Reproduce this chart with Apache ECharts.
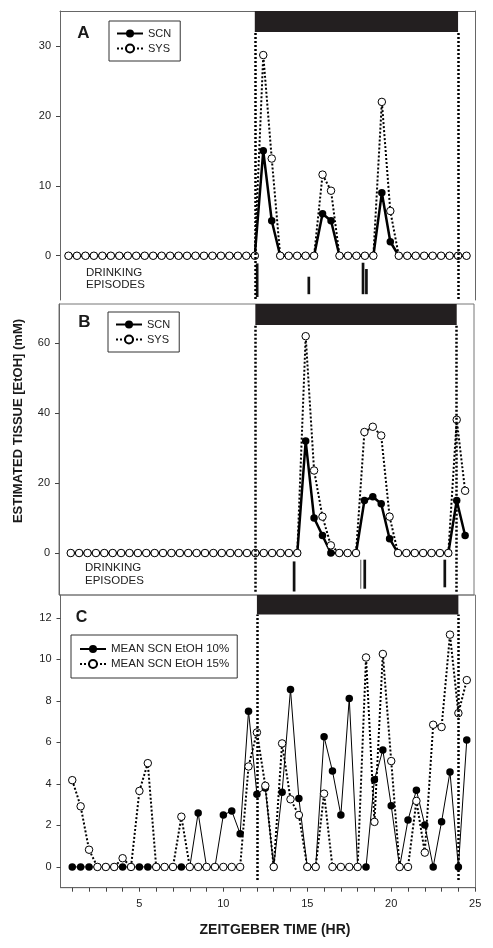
<!DOCTYPE html>
<html><head><meta charset="utf-8">
<script src="https://cdn.jsdelivr.net/npm/echarts@6/dist/echarts.min.js"></script>
<style>html,body{margin:0;padding:0;background:#fff}#c{width:493px;height:948px}</style>
</head><body><div id="c"></div>
<script>
// ---------------- DATA ----------------
const times = [1,1.5,2,2.5,3,3.5,4,4.5,5,5.5,6,6.5,7,7.5,8,8.5,9,9.5,10,10.5,11,11.5,12,12.5,
               13,13.5,14,14.5,15,15.5,16,16.5,17,17.5,18,18.5,19,19.5,20,20.5,21,21.5,22,22.5,23,23.5,24,24.5];
// Panel A
const scnA = [0,0,0,0,0,0,0,0,0,0, 0,0,0,0,0,0,0,0,0,0, 0,0,0,15,5,0,0,0,0,0, 6,5,0,0,0,0,0,9,2,0, 0,0,0,0,0,0,0,0];
const sysA = [0,0,0,0,0,0,0,0,0,0, 0,0,0,0,0,0,0,0,0,0, 0,0,0,28.7,13.9,0,0,0,0,0, 11.6,9.3,0,0,0,0,0,22,6.4,0, 0,0,0,0,0,0,0,0];
// Panel B
const scnB = [0,0,0,0,0,0,0,0,0,0, 0,0,0,0,0,0,0,0,0,0, 0,0,0,0,0,0,0,0,32,10, 5,0,0,0,0,15,16.1,14.1,4.1,0, 0,0,0,0,0,0,15,5];
const sysB = [0,0,0,0,0,0,0,0,0,0, 0,0,0,0,0,0,0,0,0,0, 0,0,0,0,0,0,0,0,62,23.6, 10.4,2.2,0,0,0,34.6,36.1,33.6,10.4,0, 0,0,0,0,0,0,38.1,17.8];
// Panel C
const mean10 = [0,0,0,0,0,0,0,0,0,0, 0,0,0,0,0,2.6,0,0,2.5,2.7, 1.6,7.5,3.5,3.8,0,3.6,8.55,3.3,0,0,
                6.27,4.62,2.5,8.12,0,0,4.2,5.63,2.95,0, 2.26,3.7,2.02,0,2.18,4.57,0,6.11];
const mean15 = [4.18,2.92,0.83,0,0,0,0.42,0,3.66,5.0, 0,0,0,2.42,0,0,0,0,0,0, 0,4.84,6.48,3.91,0,5.95,3.26,2.5,0,0,
                3.53,0,0,0,0,10.09,2.17,10.26,5.1,0, 0,3.18,0.69,6.85,6.74,11.19,7.41,9.0];
// Drinking episodes: time (hr), top and bottom of the mark (mM units)
const episodeTimeA = [12.14, 15.19, 18.39, 18.59];
const episodeTopA = [-1.1, -3.0, -1.0, -1.9];
const episodeBottomA = [-5.9, -5.5, -5.5, -5.5];
const episodeTimeB = [14.31, 18.52, 23.29];
const episodeTopB = [-2.4, -1.9, -1.9];
const episodeBottomB = [-11.0, -10.2, -9.8];
const episodeTimeBminor = [18.28];
const episodeTopBminor = [-1.9];
const episodeBottomBminor = [-10.2];
// Dark phase
const darkStart = 12, darkEnd = 24;
// Tick labels
const yLabelsA = [0,10,20,30];
const yLabelsB = [0,20,40,60];
const yLabelsC = [0,2,4,6,8,10,12];
const xTicks = [1,2,3,4,5,6,7,8,9,10,11,12,13,14,15,16,17,18,19,20,21,22,23,24,25];
const xLabels = [5,10,15,20,25];
const namesAB = ['SCN','SYS'];
const namesC = ['MEAN SCN EtOH 10%','MEAN SCN EtOH 15%'];

// ---------------- CHART ----------------
const FONT = 'Liberation Sans, Arial, sans-serif';
const pair = (vals) => times.map((t,i)=>[t, vals[i]]);
const epi = (t, top, bot) => t.map((v,i)=>[v, top[i], bot[i]]);

// panel ranges
const P = [
  {xmin:0.5, xmax:25, ymin:-6.33, ymax:35, barFrom:32, lineBottom:-6.2},
  {xmin:0.3, xmax:25.03, ymin:-12, ymax:71.2, barFrom:65.2, lineBottom:-11.1},
  {xmin:0.3, xmax:25.02, ymin:-1.0, ymax:13.1, barFrom:12.16, lineBottom:-0.63}
];

function nightMarks(p){
  return {
    markArea:{silent:true, itemStyle:{color:'#231f20'},
      data:[[{coord:[darkStart, p.barFrom]},{coord:[darkEnd, p.ymax]}]]},
    markLine:{silent:true, symbol:['none','none'], label:{show:false},
      lineStyle:{color:'#000', width:2.5, type:[2,2]},
      data:[[{coord:[darkStart,p.lineBottom]},{coord:[darkStart,p.barFrom]}],
            [{coord:[darkEnd,p.lineBottom]},{coord:[darkEnd,p.barFrom]}]]}
  };
}

function episodeSeries(idx, data, color, w){
  return {type:'custom', xAxisIndex:idx, yAxisIndex:idx, data:data, silent:true, z:1,
    renderItem:function(params, api){
      const a = api.coord([api.value(0), api.value(1)]);
      const b = api.coord([api.value(0), api.value(2)]);
      return {type:'rect', shape:{x:a[0]-w/2, y:a[1], width:w, height:b[1]-a[1]}, style:{fill:color}};
    }};
}

const filledStyle = {symbol:'circle', symbolSize:7.5, itemStyle:{color:'#000'}};
const openStyle = {symbol:'circle', symbolSize:7.5, itemStyle:{color:'#fff', borderColor:'#000', borderWidth:1}};

const axisLineStyle = {color:'#666', width:1};
function yAxisFor(idx, p, labels){
  return {type:'value', gridIndex:idx, min:p.ymin, max:p.ymax, splitLine:{show:false},
    axisLine:{show:true, onZero:false, lineStyle:axisLineStyle},
    axisTick:{show:true, inside:false, length:4, customValues:labels, lineStyle:{color:'#444'}},
    axisLabel:{show:true, customValues:labels, fontSize:11, color:'#222', margin:9, fontFamily:FONT}};
}

const option = {
  animation:false,
  backgroundColor:'#fff',
  grid:[
    {left:60, top:11, width:415, height:289, show:false},
    {left:59, top:304, width:415, height:291, show:true, borderColor:'#777', borderWidth:1, backgroundColor:'transparent'},
    {left:60.5, top:595, width:415, height:292.7, show:true, borderColor:'#777', borderWidth:1, backgroundColor:'transparent'}
  ],
  xAxis:[
    {type:'value', gridIndex:0, min:P[0].xmin, max:P[0].xmax, position:'top', splitLine:{show:false},
      axisLine:{show:true, onZero:false, lineStyle:axisLineStyle}, axisTick:{show:false}, axisLabel:{show:false}},
    {type:'value', gridIndex:1, min:P[1].xmin, max:P[1].xmax, splitLine:{show:false},
      axisLine:{show:false, onZero:false}, axisTick:{show:false}, axisLabel:{show:false}},
    {type:'value', gridIndex:2, min:P[2].xmin, max:P[2].xmax, splitLine:{show:false},
      axisLine:{show:true, onZero:false, lineStyle:axisLineStyle},
      axisTick:{show:true, length:4, customValues:xTicks, lineStyle:{color:'#444'}},
      axisLabel:{show:true, customValues:xLabels, fontSize:11, color:'#222', margin:11, fontFamily:FONT}}
  ],
  yAxis:[
    yAxisFor(0, P[0], yLabelsA),
    yAxisFor(1, P[1], yLabelsB),
    yAxisFor(2, P[2], yLabelsC),
    {type:'value', gridIndex:0, position:'right', min:P[0].ymin, max:P[0].ymax, splitLine:{show:false},
      axisLine:{show:true, onZero:false, lineStyle:axisLineStyle}, axisTick:{show:false}, axisLabel:{show:false}}
  ],
  legend:[
    {data:namesAB, orient:'vertical', left:109, top:21, itemWidth:26, itemHeight:10, itemGap:4,
      padding:[7,9,7,7], borderColor:'#333', borderWidth:1, selectedMode:false,
      textStyle:{fontSize:11, color:'#222', fontFamily:FONT}},
    {data:namesAB, orient:'vertical', left:108, top:312, itemWidth:26, itemHeight:10, itemGap:4,
      padding:[7,9,7,7], borderColor:'#333', borderWidth:1, selectedMode:false,
      textStyle:{fontSize:11, color:'#222', fontFamily:FONT}},
    {data:namesC, orient:'vertical', left:71, top:635, itemWidth:26, itemHeight:10, itemGap:3,
      padding:[8,8,8,8], borderColor:'#333', borderWidth:1, selectedMode:false,
      textStyle:{fontSize:11.5, color:'#222', fontFamily:FONT}}
  ],
  series:[
    // Panel A
    Object.assign({name:'SCN', type:'line', xAxisIndex:0, yAxisIndex:0, data:pair(scnA), z:2,
      lineStyle:{color:'#000', width:2.5}}, filledStyle, nightMarks(P[0])),
    Object.assign({name:'SYS', type:'line', xAxisIndex:0, yAxisIndex:0, data:pair(sysA), z:3,
      lineStyle:{color:'#000', width:2, type:[2,2]}}, openStyle),
    episodeSeries(0, epi(episodeTimeA, episodeTopA, episodeBottomA), '#111', 2.7),
    // Panel B
    Object.assign({name:'SCN', type:'line', xAxisIndex:1, yAxisIndex:1, data:pair(scnB), z:2,
      lineStyle:{color:'#000', width:2.5}}, filledStyle, nightMarks(P[1])),
    Object.assign({name:'SYS', type:'line', xAxisIndex:1, yAxisIndex:1, data:pair(sysB), z:3,
      lineStyle:{color:'#000', width:2, type:[2,2]}}, openStyle),
    episodeSeries(1, epi(episodeTimeB, episodeTopB, episodeBottomB), '#111', 2.7),
    episodeSeries(1, epi(episodeTimeBminor, episodeTopBminor, episodeBottomBminor), '#777', 1.2),
    // Panel C
    Object.assign({name:namesC[0], type:'line', xAxisIndex:2, yAxisIndex:2, data:pair(mean10), z:2,
      lineStyle:{color:'#000', width:1}}, filledStyle, nightMarks(P[2])),
    Object.assign({name:namesC[1], type:'line', xAxisIndex:2, yAxisIndex:2, data:pair(mean15), z:3,
      lineStyle:{color:'#000', width:2, type:[2,2]}}, openStyle)
  ],
  graphic:[
    {type:'text', x:83.5, y:33, style:{text:'A', font:'bold 17px '+FONT, fill:'#1a1a1a', textAlign:'center', textVerticalAlign:'middle', align:'center', verticalAlign:'middle'}},
    {type:'text', x:84.5, y:322, style:{text:'B', font:'bold 17px '+FONT, fill:'#1a1a1a', textAlign:'center', textVerticalAlign:'middle', align:'center', verticalAlign:'middle'}},
    {type:'text', x:81.5, y:618, style:{text:'C', font:'bold 16px '+FONT, fill:'#1a1a1a', textAlign:'center', textVerticalAlign:'middle', align:'center', verticalAlign:'middle'}},
    {type:'text', x:86, y:272.7, style:{text:'DRINKING', font:'11.5px '+FONT, fill:'#222', textAlign:'left', textVerticalAlign:'middle', align:'left', verticalAlign:'middle'}},
    {type:'text', x:86, y:285.3, style:{text:'EPISODES', font:'11.5px '+FONT, fill:'#222', textAlign:'left', textVerticalAlign:'middle', align:'left', verticalAlign:'middle'}},
    {type:'text', x:85, y:568.3, style:{text:'DRINKING', font:'11.5px '+FONT, fill:'#222', textAlign:'left', textVerticalAlign:'middle', align:'left', verticalAlign:'middle'}},
    {type:'text', x:85, y:581, style:{text:'EPISODES', font:'11.5px '+FONT, fill:'#222', textAlign:'left', textVerticalAlign:'middle', align:'left', verticalAlign:'middle'}},
    {type:'text', x:18.5, y:421, rotation:Math.PI/2, style:{text:'ESTIMATED TISSUE [EtOH] (mM)', font:'bold 13px '+FONT, fill:'#1a1a1a', textAlign:'center', textVerticalAlign:'middle', align:'center', verticalAlign:'middle'}},
    {type:'text', x:275, y:930, style:{text:'ZEITGEBER TIME (HR)', font:'bold 14px '+FONT, fill:'#1a1a1a', textAlign:'center', textVerticalAlign:'middle', align:'center', verticalAlign:'middle'}}
  ]
};
const chart = echarts.init(document.getElementById('c'), null, {renderer:'canvas'});
chart.setOption(option);
</script>
</body></html>
